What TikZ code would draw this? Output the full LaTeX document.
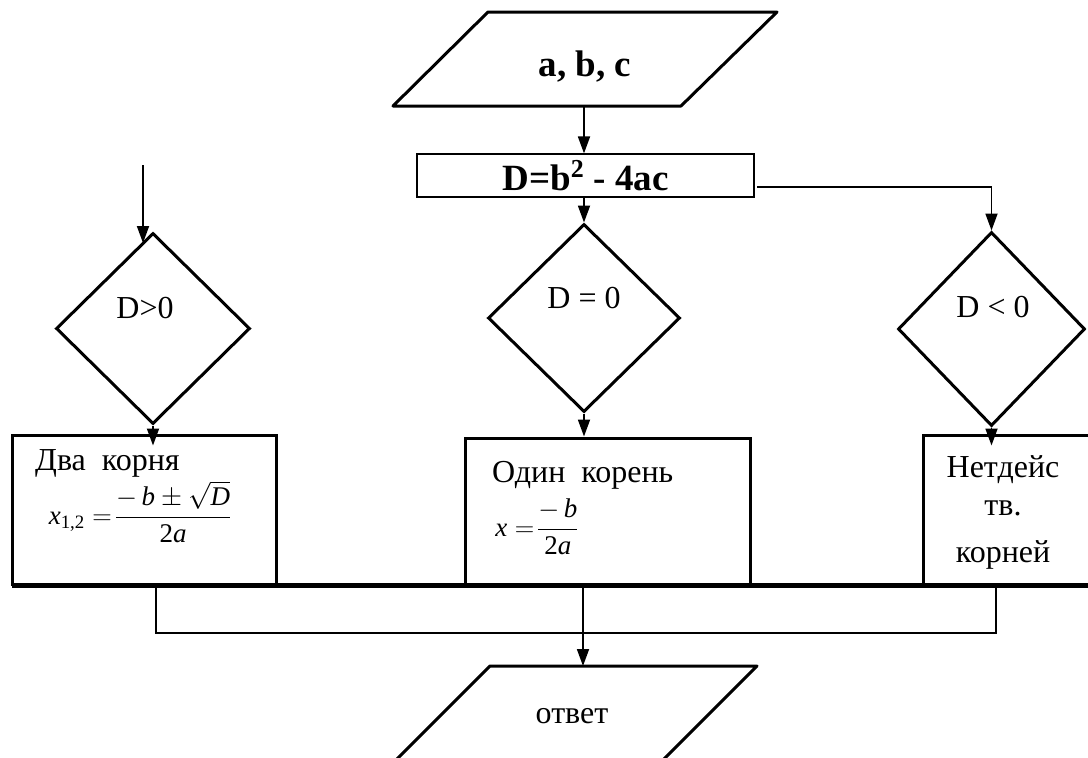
\RequirePackage{fix-cm}
\documentclass[tikz,border=0pt]{standalone}
\usepackage{amsmath}
\usepackage{fontspec}
\setmainfont{LiberationSerif}[Extension=.ttf,UprightFont=*-Regular,BoldFont=*-Bold,ItalicFont=*-Italic,BoldItalicFont=*-BoldItalic]
\usetikzlibrary{arrows.meta,shapes.geometric}
\begin{document}
\begin{tikzpicture}[x=1pt,y=-1pt,
  shapeline/.style={line width=3pt,line join=round},
  dia/.style={draw,diamond,line width=3pt,inner sep=0pt},
  boxn/.style={draw,line width=3pt,inner sep=0pt},
  txt/.style={font=\fontsize{32}{38}\selectfont,inner sep=0pt},
  btxt/.style={font=\fontsize{37}{42}\selectfont\bfseries,inner sep=0pt},
  ftxt/.style={font=\fontsize{27}{32}\selectfont,inner sep=0pt},
  arr/.style={line width=1.8pt,-{Triangle[length=17pt,width=12pt]}},
  conn/.style={line width=1.5pt}
]
\useasboundingbox (0,0) rectangle (1088,758);
\fill[white] (0,0) rectangle (1088,758);

% input parallelogram
\draw[shapeline] (488,12) -- (777,12) -- (681,106) -- (393,106) -- cycle;
\node[btxt] (abc) at (585,67) {a, b, c};
\coordinate (abcB) at (584,106);

% discriminant box
\node[draw,line width=1.2pt,minimum width=337pt,minimum height=43pt,btxt] (Dbox) at (585.5,175.5) {D=b\textsuperscript{2} - 4ac};

% diamonds
\node[dia,minimum width=194pt,minimum height=191pt] (d1) at (153,328.5) {};
\node[dia,minimum width=192pt,minimum height=188pt] (d2) at (584,318) {};
\node[dia,minimum width=187pt,minimum height=194pt] (d3) at (991.5,329) {};
\node[txt] (t1) at (145,308) {D>0};
\node[txt] (t2) at (584,298) {D = 0};
\node[txt] (t3) at (993,307) {D < 0};

% arrows into diamonds
\draw[arr] (abcB) -- (abcB |- Dbox.north);
\draw[arr] (d2.north |- Dbox.south) -- (d2.north);
\coordinate (rStart) at (757,187);
\draw[arr] (rStart) -| (d3.north);
\coordinate (lStart) at (143,165);
\coordinate (lEnd) at (143,243);
\draw[arr] (lStart) -- (lEnd);

% result boxes
\node[boxn,minimum width=264pt,minimum height=149pt] (b1) at (144,509.5) {};
\node[boxn,minimum width=285pt,minimum height=146pt] (b2) at (607.5,511) {};
\node[boxn,minimum width=177pt,minimum height=149pt] (b3) at (1011.5,509.5) {};

\draw[arr] (d1.south) -- ([yshift=-12pt]d1.south |- b1.north);
\draw[arr] (d2.south) -- (d2.south |- b2.north);
\draw[arr] (d3.south) -- ([yshift=-12pt]d3.south |- b3.north);

% box texts
\node[txt,anchor=base west] (b1t) at (35,470) {Два\ \ корня};
\node[ftxt] (f1) at (140,512) {$\textit{x}_{\text{1,2}} =\!\dfrac{-\,\textit{b} \pm \sqrt{\textit{D}}}{\text{2}\textit{a}}$};
\node[txt,anchor=base west] (b2t) at (492,482) {Один\ \ корень};
\node[ftxt] (f2) at (537,527) {$\textit{x} =\!\dfrac{-\,\textit{b}}{\text{2}\textit{a}}$};
\node[txt,anchor=base] (b3a) at (1003,477) {Нетдейс};
\node[txt,anchor=base] (b3b) at (1003,515) {тв.};
\node[txt,anchor=base] (b3c) at (1003,562) {корней};

% collecting line
\coordinate (busL) at (12,585);
\coordinate (busR) at (1100,585);
\draw[line width=5pt] (busL) -- (busR);
\node[draw,line width=2pt,minimum width=840pt,minimum height=47pt,inner sep=0pt] (collect) at (576,609) {};
\coordinate (cStart) at (583,587);
\coordinate (outTop) at (583,666);
\draw[arr] (cStart) -- (outTop);

% output parallelogram
\draw[shapeline] (490,666) -- (757,666) -- (633,790) -- (366,790) -- cycle;
\node[txt] (out) at (572,716) {ответ};
\end{tikzpicture}
\end{document}
